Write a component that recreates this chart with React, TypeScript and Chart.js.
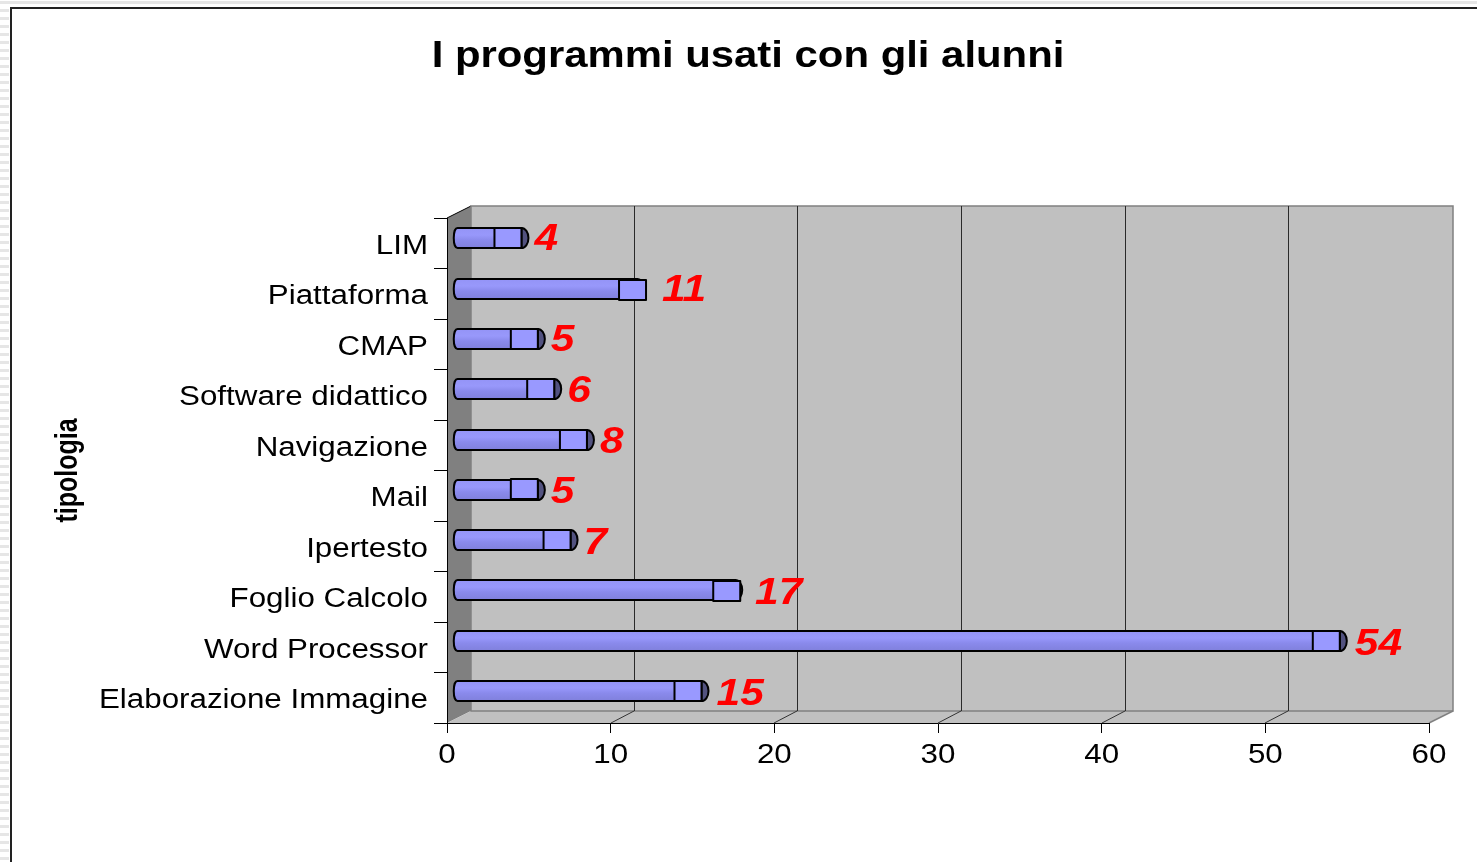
import React, { useEffect, useRef } from "react";
import { Chart, registerables } from "chart.js";

Chart.register(...registerables);

const titleText = "I programmi usati con gli alunni";
const axisTitle = "tipologia";
const categories = ["LIM", "Piattaforma", "CMAP", "Software didattico", "Navigazione", "Mail", "Ipertesto", "Foglio Calcolo", "Word Processor", "Elaborazione Immagine"];
const values = [4, 11, 5, 6, 8, 5, 7, 17, 54, 15];
const xTicks = [0, 10, 20, 30, 40, 50, 60];

const FONT = "'Liberation Sans', Arial, sans-serif";
const DEPTH_X = 24;
const DEPTH_Y = 12;
// small per-bar drawing quirks of the end cap, by category
const capShift: Record<string, [number, number]> = { Piattaforma: [10, 1], "Foglio Calcolo": [6, 1], Mail: [0, -1] };

const decorPlugin = {
  id: "decor3d",
  beforeDraw(chart: any) {
    const ctx = chart.ctx;
    const orig = ctx.fillText;
    ctx.fillText = function (t: string, x: number, y: number) {
      const m = ctx.getTransform();
      const rotated = Math.abs(m.b) > 0.01;
      const bold = ctx.font.includes("bold");
      const italic = ctx.font.includes("italic");
      ctx.save();
      ctx.translate(x, y);
      if (rotated) ctx.scale(1, 1.25);
      else if (italic) ctx.scale(1.18, 1);
      else if (bold) ctx.scale(1.163, 1);
      else {
        ctx.translate(0, 3);
        ctx.scale(1.16, 1);
      }
      orig.call(ctx, t, 0, 0);
      ctx.restore();
    };
    const { left, right, top, bottom } = chart.chartArea;
    const xs = chart.scales.x;
    ctx.save();
    ctx.fillStyle = "#ffffff";
    ctx.fillRect(0, 0, chart.width, chart.height);
    // page frame
    ctx.fillStyle = "#e6e6e6";
    ctx.fillRect(0, 1, chart.width, 3);
    for (let y = 9; y < chart.height; y += 8) ctx.fillRect(0, y, 9, 3);
    ctx.fillStyle = "#222222";
    ctx.fillRect(10, 7, chart.width - 10, 2);
    ctx.fillRect(10, 7, 2, chart.height - 7);
    // left wall
    ctx.fillStyle = "#808080";
    ctx.beginPath();
    ctx.moveTo(left, top);
    ctx.lineTo(left + DEPTH_X, top - DEPTH_Y);
    ctx.lineTo(left + DEPTH_X, bottom - DEPTH_Y);
    ctx.lineTo(left, bottom);
    ctx.closePath();
    ctx.fill();
    ctx.strokeStyle = "#000";
    ctx.lineWidth = 1;
    ctx.beginPath();
    ctx.moveTo(left, top);
    ctx.lineTo(left + DEPTH_X, top - DEPTH_Y);
    ctx.stroke();
    // back wall and floor
    ctx.fillStyle = "#c0c0c0";
    ctx.fillRect(left + DEPTH_X, top - DEPTH_Y, right - left, bottom - top);
    ctx.beginPath();
    ctx.moveTo(left, bottom);
    ctx.lineTo(left + DEPTH_X, bottom - DEPTH_Y);
    ctx.lineTo(right + DEPTH_X, bottom - DEPTH_Y);
    ctx.lineTo(right, bottom);
    ctx.closePath();
    ctx.fill();
    ctx.strokeStyle = "#808080";
    ctx.lineWidth = 1.5;
    ctx.strokeRect(left + DEPTH_X, top - DEPTH_Y, right - left, bottom - top);
    ctx.beginPath();
    ctx.moveTo(right, bottom);
    ctx.lineTo(right + DEPTH_X, bottom - DEPTH_Y);
    ctx.stroke();
    // gridlines
    xTicks.slice(1, -1).forEach((v) => {
      const px = Math.round(xs.getPixelForValue(v));
      ctx.strokeStyle = "#2a2a2a";
      ctx.lineWidth = 1;
      ctx.beginPath();
      ctx.moveTo(px + DEPTH_X - 0.5, top - DEPTH_Y);
      ctx.lineTo(px + DEPTH_X - 0.5, bottom - DEPTH_Y);
      ctx.stroke();
      ctx.strokeStyle = "#333333";
      ctx.beginPath();
      ctx.moveTo(px, bottom);
      ctx.lineTo(px + DEPTH_X - 1, bottom - DEPTH_Y);
      ctx.stroke();
    });
    ctx.restore();
  },
  beforeDatasetsDraw(chart: any) {
    const ctx = chart.ctx;
    const meta = chart.getDatasetMeta(0);
    const h = 20;
    meta.data.forEach((bar: any, i: number) => {
      const label = categories[i];
      const [dx, dy] = capShift[label] || [0, 0];
      const cy = Math.round(bar.y - 5 - i * 0.18);
      const y0 = cy - h / 2;
      const x0 = bar.base + 7;
      const boxRight = bar.x + 9 + dx;
      const barEnd = bar.x + 9 + (dx ? 1 : 0);
      ctx.save();
      ctx.lineWidth = 2;
      ctx.strokeStyle = "#000";
      ctx.lineJoin = "round";
      // far cap
      ctx.fillStyle = "#52527f";
      ctx.beginPath();
      ctx.ellipse(barEnd, cy, 7, h / 2, 0, 0, Math.PI * 2);
      ctx.fill();
      ctx.stroke();
      // cylinder body
      const g = ctx.createLinearGradient(0, y0, 0, y0 + h);
      g.addColorStop(0, "#9494f6");
      g.addColorStop(0.35, "#9898fb");
      g.addColorStop(0.6, "#8a8aec");
      g.addColorStop(1, "#8080dc");
      ctx.fillStyle = g;
      ctx.beginPath();
      ctx.moveTo(x0 + 3, y0);
      ctx.lineTo(barEnd, y0);
      ctx.lineTo(barEnd, y0 + h);
      ctx.lineTo(x0 + 3, y0 + h);
      ctx.bezierCurveTo(x0 - 2, y0 + h, x0 - 2, y0, x0 + 3, y0);
      ctx.closePath();
      ctx.fill();
      ctx.stroke();
      // end face
      ctx.fillStyle = "#9999ff";
      ctx.fillRect(boxRight - 27, y0 + dy, 27, h);
      ctx.strokeRect(boxRight - 27, y0 + dy, 27, h);
      // value label
      ctx.fillStyle = "#ff0000";
      ctx.font = `italic bold 36px ${FONT}`;
      ctx.textAlign = "left";
      ctx.textBaseline = "middle";
      ctx.fillText(String(values[i]), bar.x + 22 + (i > 7 ? 2 : 0) + dx * 1.3, Math.round(bar.y - 3 + i * 0.08));
      ctx.restore();
    });
    return false;
  },
  afterDraw(chart: any) {
    delete chart.ctx.fillText;
  },
};

export default function App() {
  const ref = useRef<HTMLCanvasElement | null>(null);
  useEffect(() => {
    const chart = new Chart(ref.current as HTMLCanvasElement, {
      type: "bar",
      data: {
        labels: categories,
        datasets: [{ data: values, backgroundColor: "#9999ff", borderColor: "#000000", borderWidth: 2, barThickness: 20 }],
      },
      plugins: [decorPlugin],
      options: {
        indexAxis: "y",
        responsive: false,
        animation: false,
        layout: { padding: { left: 67, right: 48, top: 0, bottom: 0 } },
        plugins: {
          legend: { display: false },
          tooltip: { enabled: false },
          title: {
            display: true,
            text: titleText,
            color: "#000000",
            font: { family: FONT, size: 36, weight: "bold" },
            padding: { top: 35.4, bottom: 139.4 },
          },
        },
        scales: {
          x: {
            type: "linear",
            min: 0,
            max: 60,
            afterFit: (s: any) => { s.height = 139; },
            ticks: { stepSize: 10, color: "#000000", padding: 3, maxRotation: 0, font: { family: FONT, size: 27 } },
            grid: { drawOnChartArea: false, color: "#000000", tickLength: 10 },
            border: { color: "#000000" },
          },
          y: {
            type: "category",
            afterFit: (s: any) => { s.width = 380; },
            ticks: { color: "#000000", padding: 6, autoSkip: false, font: { family: FONT, size: 27 } },
            grid: { drawOnChartArea: false, color: "#000000", tickLength: 13 },
            border: { color: "#000000" },
            title: {
              display: true,
              text: axisTitle,
              color: "#000000",
              font: { family: FONT, size: 25, weight: "bold" },
              padding: { top: -14, bottom: 0 },
            },
          },
        },
      },
    } as any);
    return () => chart.destroy();
  }, []);
  return <canvas ref={ref} width={1477} height={862} style={{ position: "absolute", left: 0, top: 0, display: "block" }} />;
}
